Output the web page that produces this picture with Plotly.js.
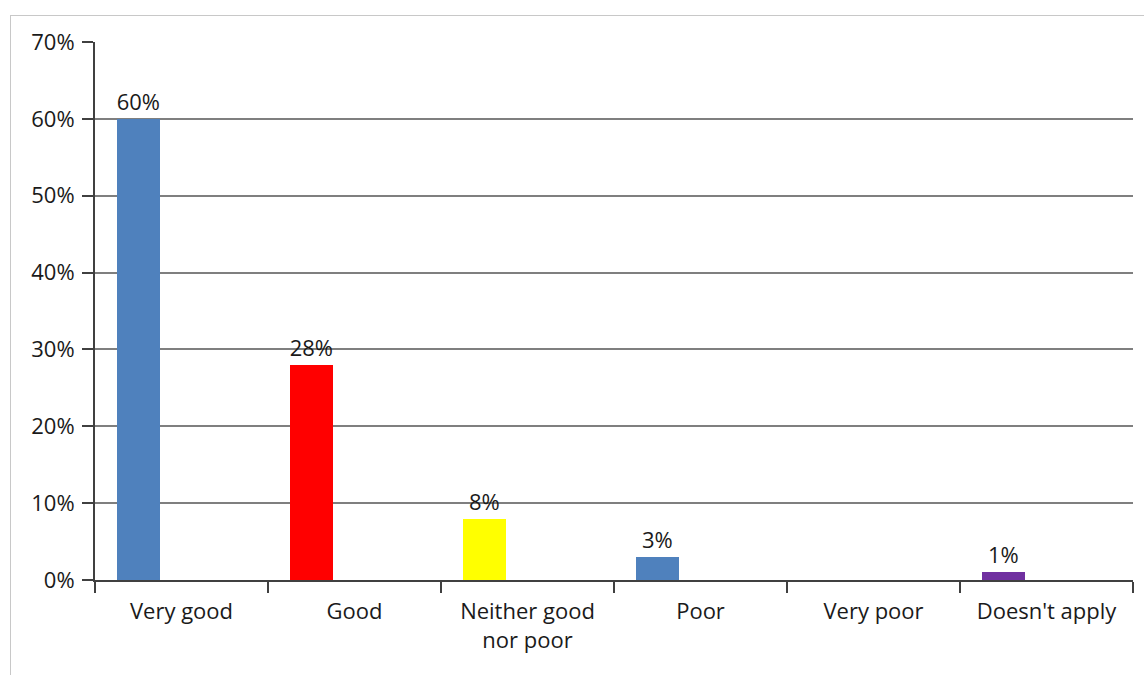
<!DOCTYPE html>
<html><head><meta charset="utf-8">
<script src="https://cdn.plot.ly/plotly-3.0.1.min.js"></script>
<style>
html,body{margin:0;padding:0;background:#fff;overflow:hidden}
#frame{position:absolute;left:10px;top:15px;width:1200px;height:700px;border:1px solid #c8c8c8;box-sizing:border-box}
#chart{position:absolute;left:0;top:0;width:1144px;height:675px}
</style></head>
<body>
<div id="frame"></div>
<div id="chart"></div>
<script>
const categories = ["Very good", "Good", "Neither good<br>nor poor", "Poor", "Very poor", "Doesn't apply"];
const values = [0.60, 0.28, 0.08, 0.03, 0.00, 0.01];
const barColors = ["#4f81bd", "#ff0000", "#ffff00", "#4f81bd", "#4f81bd", "#7030a0"];
const yTickVals = [0, 0.1, 0.2, 0.3, 0.4, 0.5, 0.6, 0.7];
const yTickText = ["0%", "10%", "20%", "30%", "40%", "50%", "60%", "70%"];

const labels = values.map(v => v > 0 ? Math.round(v * 100) + "%" : "");
const FONT = "Open Sans, sans-serif";

const trace = {
  type: "bar",
  x: categories,
  y: values,
  width: 0.25,
  offset: -0.375,
  marker: {color: barColors, line: {width: 0}},
  text: labels,
  textposition: "outside",
  textfont: {family: FONT, size: 22, color: "#1a1a1a"},
  cliponaxis: false,
  hoverinfo: "skip"
};

const layout = {
  width: 1144, height: 675,
  margin: {l: 95, r: 11, t: 42, b: 95},
  paper_bgcolor: "rgba(0,0,0,0)",
  plot_bgcolor: "rgba(0,0,0,0)",
  showlegend: false,
  font: {family: FONT, size: 22, color: "#1a1a1a"},
  xaxis: {
    type: "category",
    tickson: "boundaries",
    ticks: "outside", ticklen: 11, tickwidth: 2, tickcolor: "#404040",
    showline: true, linecolor: "#404040", linewidth: 2,
    showgrid: false, zeroline: false,
    tickfont: {family: FONT, size: 22, color: "#1a1a1a"},
    ticklabelstandoff: 11,
    range: [-0.5, 5.5],
    fixedrange: true
  },
  yaxis: {
    range: [0, 0.7],
    tickvals: yTickVals, ticktext: yTickText,
    ticks: "outside", ticklen: 11, tickwidth: 2, tickcolor: "#404040",
    showline: true, linecolor: "#404040", linewidth: 2,
    showgrid: true, gridcolor: "#7f7f7f", gridwidth: 2,
    zeroline: false,
    tickfont: {family: FONT, size: 22, color: "#1a1a1a"},
    ticklabelstandoff: 3,
    fixedrange: true
  },
  bargap: 0
};

Plotly.newPlot("chart", [trace], layout, {displayModeBar: false, staticPlot: true});
</script>
</body></html>
